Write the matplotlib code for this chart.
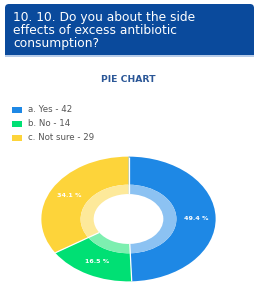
import matplotlib
matplotlib.use("Agg")
import matplotlib.pyplot as plt
import numpy as np
from matplotlib.patches import FancyBboxPatch, Rectangle

title_lines = ["10. 10. Do you about the side", "effects of excess antibiotic", "consumption?"]
chart_title = "PIE CHART"
categories = ["a. Yes", "b. No", "c. Not sure"]
counts = [42, 14, 29]
pct_labels = ["49.4 %", "16.5 %", "34.1 %"]
colors = ["#1E88E5", "#00E074", "#FDD43A"]
light_colors = ["#8CC2F2", "#7DEFB0", "#FDE99A"]

W, H = 254, 283
fig = plt.figure(figsize=(W / 100, H / 100), dpi=100)
fig.patch.set_facecolor("white")

bg = fig.add_axes([0, 0, 1, 1])
bg.set_xlim(0, W)
bg.set_ylim(H, 0)
bg.axis("off")

# header
bg.add_patch(FancyBboxPatch((5, 4), 249, 50, boxstyle="round,pad=0,rounding_size=4",
                            facecolor="#0A4A9C", edgecolor="none"))
bg.add_patch(Rectangle((5, 40), 249, 15, facecolor="#0A4A9C", edgecolor="none"))
bg.add_patch(Rectangle((5, 55), 249, 1.5, facecolor="#B6CBE8", edgecolor="none"))
for i, line in enumerate(title_lines):
    bg.text(13, 17 + 13 * i, line, color="white", fontsize=8.8, va="center", ha="left",
            family="DejaVu Sans")

bg.text(128.5, 80, chart_title, color="#2B5797", fontsize=6.7, fontweight="bold",
        ha="center", va="center")

for i, (cat, c) in enumerate(zip(categories, counts)):
    y = 109.5 + 14 * i
    bg.add_patch(Rectangle((12, y - 3), 10, 6, facecolor=colors[i], edgecolor="none"))
    bg.text(28, y, f"{cat} - {c}", color="#555555", fontsize=6.2, ha="left", va="center")

# donut (elliptical)
cx, cy, rx, ry = 128.5, 219, 88, 63
ax = fig.add_axes([(cx - rx) / W, (H - cy - ry) / H, 2 * rx / W, 2 * ry / H])
ax.pie(counts, colors=colors, startangle=90, counterclock=False, radius=1.0,
       wedgeprops=dict(width=0.45, edgecolor="none", linewidth=0),
       labels=pct_labels, labeldistance=0.775,
       textprops=dict(color="white", fontsize=4.6, fontweight="bold", ha="center", va="center"))
ax.pie(counts, colors=light_colors, startangle=90, counterclock=False, radius=0.55,
       wedgeprops=dict(width=0.15, edgecolor="none", linewidth=0))
# white separators between slices
total = float(sum(counts))
bounds = 90 - 360 * np.cumsum([0] + counts[:-1]) / total
for a in np.deg2rad(bounds):
    ax.plot([0.40 * np.cos(a), 1.0 * np.cos(a)], [0.40 * np.sin(a), 1.0 * np.sin(a)],
            color="white", lw=0.9, solid_capstyle="butt")
ax.set_xlim(-1.01, 1.01)
ax.set_ylim(-1.01, 1.01)
ax.set_aspect("auto")
ax.axis("off")

fig.savefig("out.png", dpi=100)
